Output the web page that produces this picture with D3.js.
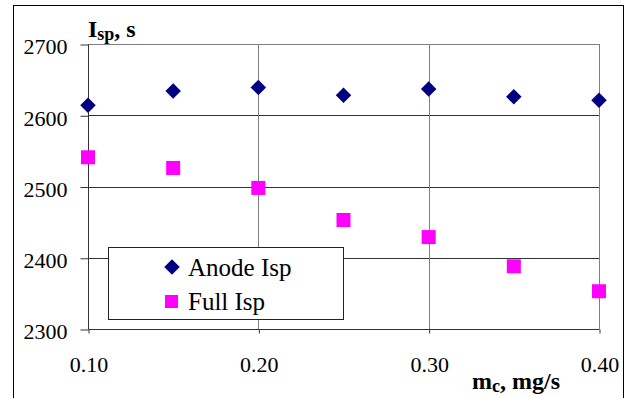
<!DOCTYPE html>
<html>
<head>
<meta charset="utf-8">
<script src="https://cdn.jsdelivr.net/npm/d3@7"></script>
<style>
  html, body { margin: 0; padding: 0; background: #fff; }
  svg { display: block; }
</style>
</head>
<body>
<svg id="chart" width="625" height="398"></svg>
<script>
// Specific impulse vs. cathode mass flow rate
const flowRates = [0.10, 0.15, 0.20, 0.25, 0.30, 0.35, 0.40];
const anodeIsp = [2614, 2634, 2639, 2628, 2637, 2626, 2621];
const fullIsp  = [2541, 2526, 2498, 2453, 2429, 2388, 2353];
const xTicks = [0.10, 0.20, 0.30, 0.40];
const yTicks = [2300, 2400, 2500, 2600, 2700];
const seriesNames = ["Anode Isp", "Full Isp"];

const serif = "'Liberation Serif', 'Times New Roman', Times, serif";
const svg = d3.select("#chart");

// chart-area frame
svg.append("rect")
  .attr("x", 13.5).attr("y", 5.5)
  .attr("width", 610).attr("height", 400)
  .attr("fill", "#fff").attr("stroke", "#000").attr("stroke-width", 1);

const plot = { left: 88, right: 599, top: 44, bottom: 329 };

const x = d3.scaleLinear().domain([0.10, 0.40]).range([plot.left, plot.right]);
const y = d3.scaleLinear().domain([2300, 2700]).range([plot.bottom, plot.top]);

// horizontal gridlines
svg.append("g")
  .selectAll("line").data(yTicks.filter(v => v !== 2300 && v !== 2700)).join("line")
  .attr("x1", plot.left).attr("x2", plot.right)
  .attr("y1", d => Math.round(y(d)) + 0.5).attr("y2", d => Math.round(y(d)) + 0.5)
  .attr("stroke", "#333").attr("stroke-width", 1);

// vertical gridlines
svg.append("g")
  .selectAll("line").data(xTicks.filter(v => v !== 0.10)).join("line")
  .attr("x1", d => Math.round(x(d)) + 0.5).attr("x2", d => Math.round(x(d)) + 0.5)
  .attr("y1", plot.top).attr("y2", plot.bottom)
  .attr("stroke", "#808080").attr("stroke-width", 1);

// top edge of plot area
svg.append("line")
  .attr("x1", plot.left).attr("x2", plot.right)
  .attr("y1", plot.top + 0.5).attr("y2", plot.top + 0.5)
  .attr("stroke", "#808080");

// y axis
const yAxis = d3.axisLeft(y).tickValues(yTicks).tickSize(8).tickPadding(13).tickFormat(d3.format("d"));
const gy = svg.append("g").attr("transform", `translate(${plot.left + 0.5},0.5)`).call(yAxis)
  .attr("font-family", serif).attr("font-size", 22);
gy.select(".domain").attr("stroke", "#333").attr("d", `M0,${plot.top}V${plot.bottom}`);
gy.selectAll(".tick line").attr("stroke", "#333");
gy.selectAll("text").style("font-family", serif).style("font-size", "22px").attr("dy", "0.42em");

// x axis
const xAxis = d3.axisBottom(x).tickValues(xTicks).tickSize(4).tickPadding(23).tickFormat(d3.format(".2f"));
const gx = svg.append("g").attr("transform", `translate(0.5,${plot.bottom + 0.5})`).call(xAxis)
  .attr("font-family", serif).attr("font-size", 22);
gx.select(".domain").attr("stroke", "#333").attr("d", `M${plot.left},0H${plot.right}`);
gx.selectAll(".tick line").attr("stroke", "#333");
gx.selectAll("text").style("font-family", serif).style("font-size", "22px");

// data points
const diamond = d3.symbol().type(d3.symbolSquare).size(120);
svg.append("g").selectAll("path").data(anodeIsp).join("path")
  .attr("d", diamond)
  .attr("transform", (d, i) => `translate(${x(flowRates[i])},${y(d)}) rotate(45)`)
  .attr("fill", "#000080");

svg.append("g").selectAll("rect").data(fullIsp).join("rect")
  .attr("x", (d, i) => x(flowRates[i]) - 7)
  .attr("y", d => y(d) - 7)
  .attr("width", 14).attr("height", 14)
  .attr("fill", "#ff00ff");

// legend
const lg = svg.append("g");
lg.append("rect")
  .attr("x", 108.5).attr("y", 247.5).attr("width", 235).attr("height", 72)
  .attr("fill", "#fff").attr("stroke", "#222");
lg.append("path")
  .attr("d", d3.symbol().type(d3.symbolSquare).size(120))
  .attr("transform", "translate(172,267) rotate(45)")
  .attr("fill", "#000080");
lg.append("rect")
  .attr("x", 165).attr("y", 295).attr("width", 13).attr("height", 13)
  .attr("fill", "#ff00ff");
lg.selectAll("text").data(seriesNames).join("text")
  .attr("x", 188).attr("y", (d, i) => 276 + i * 34)
  .style("font-family", serif).style("font-size", "25px").attr("fill", "#000")
  .text(d => d);

// axis titles
const yt = svg.append("text").attr("x", 88).attr("y", 37)
  .style("font-family", serif).style("font-size", "24px").style("font-weight", "bold");
yt.append("tspan").text("I");
yt.append("tspan").style("font-size", "18px").attr("dy", 3).text("sp");
yt.append("tspan").attr("dy", -3).text(", s");

const xt = svg.append("text").attr("x", 472).attr("y", 389)
  .style("font-family", serif).style("font-size", "24px").style("font-weight", "bold");
xt.append("tspan").text("m");
xt.append("tspan").style("font-size", "18px").attr("dy", 3).text("c");
xt.append("tspan").attr("dy", -3).text(", mg/s");
</script>
</body>
</html>
